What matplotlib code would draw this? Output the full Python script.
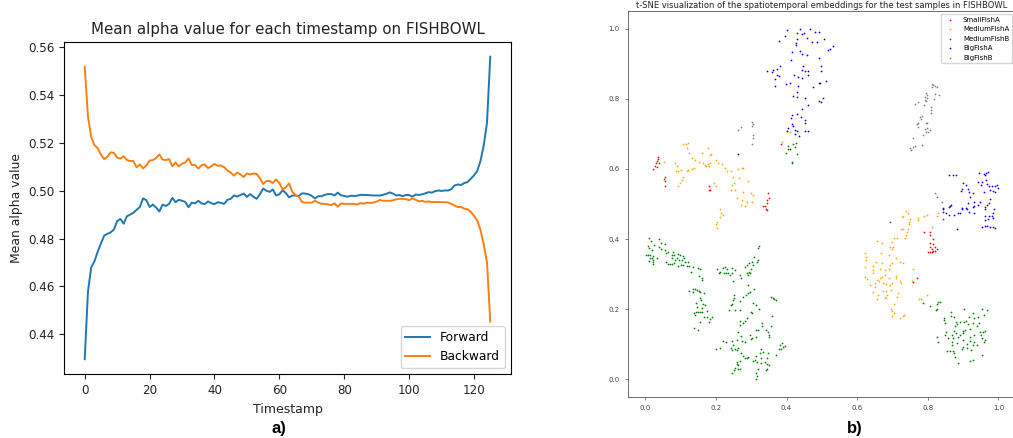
import numpy as np
import matplotlib
matplotlib.use('Agg')
import matplotlib.pyplot as plt

W, H = 1013, 438

#left panel, one value per timestamp
forward = [0.4296,0.4578,0.468,0.4705,0.4745,0.478,0.4812,0.482,0.4826,0.4838,0.4873,0.4882,0.4862,0.4893,0.49,0.4908,0.492,0.4932,0.4968,0.496,
0.4932,0.4942,0.493,0.4913,0.4942,0.4936,0.4945,0.497,0.4952,0.4962,0.4958,0.4953,0.4931,0.495,0.4947,0.4958,0.4947,0.4944,0.4955,0.4948,
0.4944,0.4952,0.4949,0.4945,0.4962,0.4966,0.498,0.4976,0.4982,0.4988,0.4974,0.4986,0.4975,0.4966,0.4985,0.5009,0.5,0.4995,0.5005,0.498,
0.4985,0.5002,0.499,0.4972,0.498,0.498,0.4978,0.4989,0.4988,0.4985,0.4978,0.4968,0.4977,0.4977,0.4983,0.4986,0.4986,0.498,0.4992,0.4981,
0.4978,0.4975,0.4979,0.4978,0.4979,0.4983,0.4982,0.4982,0.4981,0.498,0.498,0.498,0.4983,0.4987,0.4993,0.4988,0.498,0.4982,0.4977,0.4982,
0.4982,0.4975,0.4984,0.4982,0.4985,0.4989,0.4994,0.4992,0.4998,0.5001,0.4999,0.5001,0.5001,0.5006,0.5022,0.5026,0.5024,0.5032,0.5036,0.505,
0.5064,0.5083,0.5125,0.519,0.5285,0.556]
backward = [0.5518,0.531,0.5225,0.519,0.5178,0.515,0.5132,0.5142,0.516,0.5158,0.5138,0.5134,0.5144,0.5128,0.5124,0.5124,0.5098,0.511,0.5093,0.5105,
0.5126,0.5128,0.5136,0.5152,0.513,0.5128,0.5132,0.5102,0.5118,0.5102,0.5113,0.5118,0.5135,0.5107,0.5108,0.5092,0.5106,0.511,0.5094,0.5102,
0.5112,0.5104,0.5105,0.5098,0.5084,0.5076,0.5063,0.5076,0.5068,0.5057,0.5072,0.5068,0.5072,0.507,0.5052,0.5028,0.504,0.5041,0.5032,0.5047,
0.5032,0.5005,0.5014,0.503,0.4995,0.4982,0.4975,0.4952,0.495,0.495,0.495,0.4958,0.495,0.4945,0.4945,0.4943,0.494,0.4947,0.4933,0.4947,
0.4945,0.4945,0.4945,0.4945,0.4942,0.4948,0.4946,0.495,0.4949,0.495,0.4955,0.4961,0.4958,0.4958,0.4958,0.496,0.4964,0.4966,0.4966,0.4965,
0.496,0.4968,0.4962,0.4955,0.4958,0.4953,0.4955,0.4952,0.4953,0.4953,0.4952,0.4952,0.4951,0.4945,0.4938,0.4932,0.4932,0.4925,0.4922,0.4912,
0.4895,0.4875,0.4835,0.4775,0.47,0.4453]

#right panel, (x, y) per sample
small_a = [(.035,.635),(.037,.627),(.032,.623),(.030,.616),(.027,.608),(.023,.599),(.034,.606),(.039,.616),(.056,.578),(.053,.570),(.056,.565),(.056,.552),
(.180,.551),(.181,.540),(.183,.540),(.348,.530),(.351,.518),(.346,.511),(.344,.502),(.339,.494),(.334,.494),(.341,.487),(.344,.483),(.384,.671),
(.844,.456),(.790,.421),(.807,.421),(.805,.413),(.814,.400),(.807,.390),(.814,.385),(.821,.378),(.805,.378),(.811,.373),(.825,.373),(.805,.364),(.814,.366),(.821,.366),(.811,.362),(.802,.362),
(.769,.288),(.759,.278),(.786,.217)]

medium_a = [(.108,.671),(.114,.671),(.122,.675),(.117,.659),(.124,.645),(.131,.632),(.141,.626),(.153,.621),(.160,.644),(.177,.660),(.185,.643),(.183,.640),
(.164,.616),(.169,.611),(.178,.614),(.183,.616),(.172,.607),(.181,.607),(.199,.626),(.207,.618),(.216,.613),(.226,.602),(.232,.595),(.244,.594),(.273,.604),(.276,.602),
(.263,.599),(.249,.578),(.251,.561),(.247,.554),(.244,.540),(.254,.540),(.259,.516),(.273,.512),(.287,.507),(.301,.507),(.282,.494),(.299,.531),(.304,.526),(.278,.533),
(.292,.566),(.265,.573),(.053,.619),(.084,.616),(.089,.607),(.087,.593),(.093,.595),(.100,.598),(.122,.598),(.131,.599),(.138,.602),(.117,.595),(.108,.578),(.103,.569),
(.098,.561),(.093,.552),(.195,.559),(.200,.552),(.211,.487),(.388,.678),(.400,.707),(.410,.704),(.214,.473),(.219,.469),(.211,.464),(.202,.449),(.200,.442),(.202,.432),(.270,.497),
(.739,.481),(.743,.473),(.731,.466),(.726,.462),(.750,.457),(.748,.449),(.748,.442),(.771,.459),(.773,.454),(.788,.466),(.799,.470),(.825,.466),(.830,.473),(.811,.435),
(.724,.428),(.731,.428),(.745,.430),(.742,.421),(.739,.413),(.736,.402),(.712,.404),(.703,.402),(.698,.392),(.655,.394),(.670,.390),(.693,.378),(.701,.378),(.698,.373),
(.668,.359),(.689,.354),(.622,.359),(.624,.350),(.625,.340),(.654,.335),(.710,.345),(.722,.335),(.731,.331),(.621,.321),(.644,.324),(.646,.312),(.644,.304),(.670,.333),
(.665,.316),(.679,.312),(.693,.326),(.689,.316),(.698,.331),(.679,.297),(.670,.293),(.622,.293),(.629,.286),(.665,.290),(.691,.288),(.710,.295),(.709,.290),(.720,.280),
(.757,.316),(.756,.280),(.657,.283),(.663,.280),(.674,.274),(.682,.271),(.698,.274),(.693,.269),(.637,.269),(.651,.274),(.651,.264),(.644,.248),(.660,.242),(.674,.252),
(.682,.252),(.684,.242),(.695,.255),(.717,.245),(.712,.236),(.657,.229),(.682,.231),(.679,.236),(.724,.274),(.799,.242),(.775,.228),(.781,.229),(.703,.214),(.695,.202),
(.698,.195),(.705,.188),(.698,.181),(.722,.174),(.734,.183),(.731,.181)]

medium_b = [(.011,.402),(.015,.394),(.039,.399),(.046,.388),(.056,.387),(.007,.381),(.011,.375),(.025,.383),(.020,.369),(.039,.378),(.046,.372),(.056,.369),(.008,.356),(.001,.356),
(.013,.355),(.021,.353),(.034,.345),(.018,.345),(.023,.340),(.013,.345),(.021,.334),(.023,.328),(.011,.337),(.059,.334),(.065,.329),(.070,.328),(.077,.328),(.082,.331),
(.060,.359),(.065,.362),(.075,.356),(.079,.362),(.082,.355),(.075,.345),(.084,.340),(.093,.357),(.098,.355),(.091,.345),(.096,.340),(.103,.340),(.108,.353),(.110,.347),
(.112,.336),(.122,.336),(.093,.323),(.101,.326),(.108,.326),(.117,.324),(.125,.323),(.136,.321),(.129,.307),(.150,.318),(.155,.316),(.153,.294),(.160,.290),(.160,.283),
(.202,.316),(.221,.319),(.226,.321),(.232,.316),(.245,.318),(.254,.312),(.211,.307),(.210,.302),(.223,.302),(.230,.304),(.235,.302),(.245,.302),(.249,.280),(.240,.297),
(.268,.297),(.271,.290),(.287,.302),(.292,.297),(.295,.307),(.298,.302),(.282,.321),(.287,.326),(.295,.331),(.301,.336),(.308,.348),(.320,.340),(.317,.334),(.304,.326),
(.299,.316),(.320,.375),(.323,.381),(.290,.269),(.309,.257),(.296,.248),(.290,.245),(.285,.242),(.278,.236),(.251,.240),(.251,.231),(.249,.226),(.268,.223),(.247,.214),
(.244,.212),(.237,.198),(.254,.198),(.268,.198),(.306,.219),(.315,.212),(.323,.202),(.299,.193),(.301,.188),(.287,.176),(.282,.166),(.278,.160),(.268,.166),(.268,.155),
(.263,.136),(.270,.124),(.296,.128),(.301,.117),(.299,.114),(.313,.141),(.320,.141),(.332,.161),(.332,.153),(.342,.141),(.348,.136),(.355,.153),(.360,.180),(.351,.126),
(.351,.122),(.355,.236),(.361,.231),(.365,.228),(.370,.226),(.315,.122),(.136,.259),(.141,.257),(.147,.255),(.153,.252),(.124,.252),(.136,.250),(.155,.248),(.167,.247),
(.155,.231),(.158,.226),(.143,.217),(.147,.207),(.164,.214),(.169,.212),(.174,.195),(.160,.204),(.155,.193),(.150,.191),(.143,.193),(.138,.188),(.141,.183),(.160,.191),
(.166,.179),(.176,.177),(.188,.179),(.183,.172),(.181,.164),(.155,.164),(.138,.147),(.148,.141),(.199,.086),(.211,.091),(.219,.110),(.230,.107),(.246,.109),(.259,.112),
(.273,.109),(.282,.107),(.249,.098),(.244,.090),(.254,.088),(.263,.090),(.261,.084),(.247,.084),(.270,.074),(.278,.067),(.282,.062),(.287,.060),(.261,.050),(.268,.052),
(.263,.041),(.259,.043),(.254,.034),(.252,.027),(.246,.017),(.268,.031),(.263,.029),(.292,.065),(.306,.052),(.311,.055),(.317,.050),(.313,.067),(.329,.088),(.325,.074),
(.334,.077),(.348,.074),(.329,.062),(.344,.060),(.339,.050),(.329,.046),(.344,.043),(.350,.041),(.346,.031),(.341,.027),(.320,.031),(.315,.019),(.317,.010),(.315,.001),
(.381,.098),(.386,.103),(.391,.093),(.396,.095),(.384,.086),(.379,.086),(.369,.069),
(.405,.666),(.419,.670),(.426,.673),(.410,.657),(.424,.663),(.398,.646),(.403,.657),(.431,.642),(.416,.619),(.416,.616),
(.693,.450),(.835,.221),(.830,.220),(.825,.214),(.825,.202),(.807,.210),(.824,.198),(.903,.201),(.953,.202),(.967,.198),(.866,.191),(.865,.181),(.875,.179),(.846,.174),
(.927,.188),(.958,.183),(.943,.179),(.849,.160),(.847,.169),(.880,.164),(.882,.157),(.877,.153),(.891,.163),(.903,.164),(.908,.166),(.917,.179),(.932,.174),(.915,.157),
(.929,.162),(.946,.160),(.939,.153),(.920,.145),(.906,.141),(.901,.131),(.890,.128),(.880,.131),(.873,.138),(.852,.136),(.849,.128),(.868,.128),(.901,.138),(.858,.119),
(.871,.117),(.868,.106),(.868,.098),(.887,.122),(.901,.112),(.920,.122),(.931,.126),(.948,.134),(.956,.136),(.962,.138),(.950,.126),(.953,.119),(.962,.112),(.959,.106),
(.827,.122),(.830,.107),(.882,.103),(.910,.100),(.929,.098),(.920,.109),(.939,.098),(.931,.106),(.899,.093),(.896,.088),(.910,.090),(.923,.084),(.854,.081),(.863,.082),
(.871,.082),(.875,.074),(.877,.065),(.887,.048),(.920,.052),(.929,.055),(.953,.071)]

big_a = [(.400,.995),(.439,.999),(.466,.998),(.481,.991),(.492,.990),(.429,.987),(.443,.984),(.450,.988),(.396,.979),(.379,.965),(.429,.971),(.457,.972),(.426,.960),(.426,.952),
(.471,.961),(.485,.963),(.416,.934),(.438,.937),(.443,.927),(.457,.925),(.412,.909),(.492,.915),(.381,.894),(.372,.884),(.361,.882),(.345,.880),(.358,.877),(.372,.868),
(.367,.856),(.367,.835),(.379,.865),(.448,.892),(.443,.882),(.452,.880),(.462,.880),(.462,.868),(.433,.861),(.421,.868),(.443,.858),(.410,.846),(.398,.842),(.433,.835),
(.431,.820),(.417,.809),(.429,.804),(.452,.801),(.462,.782),(.476,.833),(.492,.846),(.492,.793),(.443,.770),(.415,.754),(.412,.744),(.429,.757),(.441,.747),(.452,.738),
(.415,.728),(.405,.716),(.419,.721),(.424,.712),(.431,.709),(.452,.730),(.400,.707),(.424,.700),(.435,.695),(.452,.707),(.462,.709),(.506,.971),(.533,.949),(.523,.941),
(.518,.939),(.499,.894),(.497,.880),(.512,.851),(.495,.846),(.502,.803),(.497,.792),(.263,.642),
(.861,.584),(.871,.584),(.879,.582),(.946,.587),(.958,.585),(.965,.587),(.970,.590),(.962,.582),(.941,.563),(.953,.563),(.965,.568),(.951,.554),(.967,.557),(.972,.551),
(.981,.551),(.991,.551),(.997,.554),(1.000,.547),(.901,.559),(.908,.554),(.896,.544),(.893,.538),(.915,.544),(.917,.535),(.976,.540),(.986,.538),(.991,.535),(.958,.533),
(.927,.530),(.920,.521),(.915,.502),(.931,.507),(.948,.507),(.943,.497),(.976,.513),(.972,.502),(.967,.497),(.962,.491),(.865,.497),(.861,.491),(.844,.488),(.898,.488),
(.908,.488),(.988,.485),(.929,.492),(.844,.485),(.842,.478),(.852,.473),(.863,.494),(.861,.470),(.875,.470),(.887,.473),(.891,.473),(.896,.485),(.910,.487),(.917,.476),
(.931,.473),(.931,.494),(.962,.487),(.984,.473),(.972,.466),(.962,.466),(.981,.466),(.986,.461),(.962,.454),(.970,.456),(.953,.435),(.962,.438),(.967,.438),(.976,.435),
(.984,.435),(.991,.432),(.884,.428)]

big_b = [(.811,.842),(.816,.839),(.821,.836),(.825,.832),(.811,.834),(.821,.813),(.833,.810),(.818,.800),(.795,.815),(.799,.810),(.792,.806),(.797,.801),(.792,.796),(.795,.793),
(.764,.785),(.773,.791),(.790,.782),(.808,.777),(.808,.768),(.808,.760),(.778,.749),(.783,.751),(.780,.741),(.769,.728),(.773,.732),(.771,.720),(.795,.732),(.799,.732),
(.792,.715),(.799,.718),(.805,.711),(.795,.706),(.802,.704),(.786,.696),(.757,.689),(.750,.661),(.759,.663),(.764,.665),(.752,.654),(.783,.667),(.821,.532),(.825,.521),(.841,.506),
(.303,.733),(.306,.728),(.301,.723),(.306,.697),(.306,.688),(.302,.671),(.262,.711),(.271,.719)]

groups = [('SmallFishA', small_a, 'red'), ('MediumFishA', medium_a, 'orange'), ('MediumFishB', medium_b, 'green'),
          ('BigFishA', big_a, 'blue'), ('BigFishB', big_b, 'gray')]

def box(l, t, r, b):
    #pixel box to figure fractions
    return [l/W, 1-b/H, (r-l)/W, (b-t)/H]

fig = plt.figure(figsize=(W/100, H/100), dpi=100)

#a)
ax = fig.add_axes(box(64.3, 42.3, 510.7, 374.3))
ax.plot(forward, color='C0', label='Forward', linewidth=1.4)
ax.plot(backward, color='C1', label='Backward', linewidth=1.4)
ax.set_xlim(-6.29, 131.3)
ax.set_ylim(0.4233, 0.562)
ax.set_xticks(range(0, 121, 20))
ax.set_yticks([0.44, 0.46, 0.48, 0.50, 0.52, 0.54, 0.56])
ax.tick_params(labelsize=8.6, colors='#222222')
ax.set_xlabel('Timestamp', fontsize=9, color='#222222')
ax.set_ylabel('Mean alpha value', fontsize=8.9, color='#222222')
ax.set_title('Mean alpha value for each timestamp on FISHBOWL', fontsize=10.8, color='#222222')
ax.legend(loc='lower right', fontsize=8.8)

#b)
ax2 = fig.add_axes(box(628.3, 11, 1015, 397))
for name, pts, col in groups:
    pts = np.array(pts)
    ax2.scatter(pts[:, 0], pts[:, 1], s=1.6, linewidths=0, color=col, label=name)
ax2.set_xlim(-0.048, 1.047)
ax2.set_ylim(-0.05, 1.05)
ax2.set_xticks([0, 0.2, 0.4, 0.6, 0.8, 1.0])
ax2.set_yticks([0, 0.2, 0.4, 0.6, 0.8, 1.0])
ax2.tick_params(labelsize=5, colors='#444444', width=0.5, length=2.5)
for s in ax2.spines.values():
    s.set_linewidth(0.6)
    s.set_color('#555555')
ax2.set_title('t-SNE visualization of the spatiotemporal embeddings for the test samples in FISHBOWL', fontsize=6, color='#222222', pad=2.5, x=0.5)
ax2.legend(loc='upper right', bbox_to_anchor=(1012/W, 1-14/H), bbox_transform=fig.transFigure, borderaxespad=0, fontsize=5)

fig.text(279/W, 1-428/H, 'a)', fontsize=12, fontweight='bold', family='Liberation Sans', ha='center', va='center')
fig.text(855/W, 1-428/H, 'b)', fontsize=12, fontweight='bold', family='Liberation Sans', ha='center', va='center')

fig.savefig('out.png', dpi=100)
